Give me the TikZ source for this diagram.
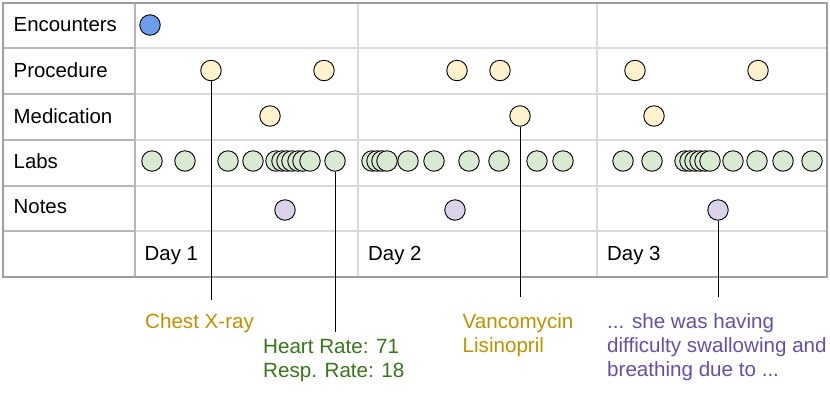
\documentclass[tikz,border=0pt]{standalone}
\usepackage{fontspec}
\setmainfont{Liberation Sans}
\definecolor{encblue}{HTML}{6D9EEB}
\definecolor{procyel}{HTML}{FFF2CC}
\definecolor{labgreen}{HTML}{D9EAD3}
\definecolor{notepurple}{HTML}{D9D2E9}
\definecolor{txtgold}{HTML}{BF9000}
\definecolor{txtgreen}{HTML}{38761D}
\definecolor{txtpurple}{HTML}{674EA7}
\definecolor{gridlight}{HTML}{D9D9D9}
\definecolor{gridmid}{HTML}{B7B7B7}
\definecolor{gridouter}{HTML}{9E9E9E}
\begin{document}
\begin{tikzpicture}[x=1pt,y=-1pt,
  dot/.style={circle,draw=black,line width=0.9pt,minimum size=20.5pt,inner sep=0pt},
  encdot/.style={dot,fill=encblue},
  yeldot/.style={dot,fill=procyel},
  labdot/.style={dot,fill=labgreen},
  notedot/.style={dot,fill=notepurple},
  rowlabel/.style={anchor=base west,inner sep=0pt,font=\fontsize{20.4}{24}\selectfont},
  callout/.style={anchor=north west,inner sep=0pt,align=left,font=\fontsize{20.6}{24}\selectfont},
  leader/.style={draw=black,line width=0.9pt},
  innerline/.style={draw=gridlight,line width=2pt},
  midline/.style={draw=gridmid,line width=2pt}]
\useasboundingbox (0,0) rectangle (830,392);
% grid
\foreach \y in {48,94,140,186,231} {
  \draw[innerline] (135,\y) -- (827,\y);
  \draw[midline] (3,\y) -- (135,\y);
}
\draw[innerline] (358,3) -- (358,277);
\draw[innerline] (597,3) -- (597,277);
\draw[midline] (135,3) -- (135,277);
\draw[draw=gridouter,line width=2.5pt] (3,3) rectangle (827,277);
% row labels
\node[rowlabel] (lenc) at (13.5,31.7) {Encounters};
\node[rowlabel] (lproc) at (13.5,77.7) {Procedure};
\node[rowlabel] (lmed) at (13.5,123.3) {Medication};
\node[rowlabel] (llabs) at (13.5,168.5) {Labs};
\node[rowlabel] (lnotes) at (13.5,213.5) {Notes};
\node[rowlabel] (d1) at (144.5,260.5) {Day 1};
\node[rowlabel] (d2) at (368,260.5) {Day 2};
\node[rowlabel] (d3) at (607,260.5) {Day 3};
% callout texts
\node[callout,text=txtgold] (tchest) at (145,311.5) {\strut Chest X-ray};
\node[callout,text=txtgreen] (theart) at (263,336.5) {\strut Heart Rate: 71\\Resp. Rate: 18};
\node[callout,text=txtgold] (tvanc) at (462.5,311.5) {\strut Vancomycin\\Lisinopril};
\node[callout,text=txtpurple] (tnote) at (607,311.5) {\strut ... she was having\\difficulty swallowing and\\breathing due to ...};
% leader end points
\coordinate (e1) at (211,299.5);
\coordinate (e2) at (335,331.5);
\coordinate (e3) at (520,297);
\coordinate (e4) at (718,297);
% dots
\node[encdot] (E1) at (150,25) {};
\foreach \x [count=\i] in {211,324,457,500,635,758}
  \node[yeldot] (P\i) at (\x,70.5) {};
\foreach \x [count=\i] in {270,520,654}
  \node[yeldot] (M\i) at (\x,116) {};
\foreach \x [count=\i] in {152,185,228,253,276,282,287,292,298,303,310,335,372,377,382,387,408,434,469,499,537,563,623,652,685,690,695,700,705,710,733,757,783,812}
  \node[labdot] (L\i) at (\x,161) {};
\foreach \x [count=\i] in {285,455,718}
  \node[notedot] (N\i) at (\x,210) {};
% leaders
\draw[leader] (P1.south) -- (e1);
\draw[leader] (L12.south) -- (e2);
\draw[leader] (M2.south) -- (e3);
\draw[leader] (N3.south) -- (e4);
\end{tikzpicture}
\end{document}
